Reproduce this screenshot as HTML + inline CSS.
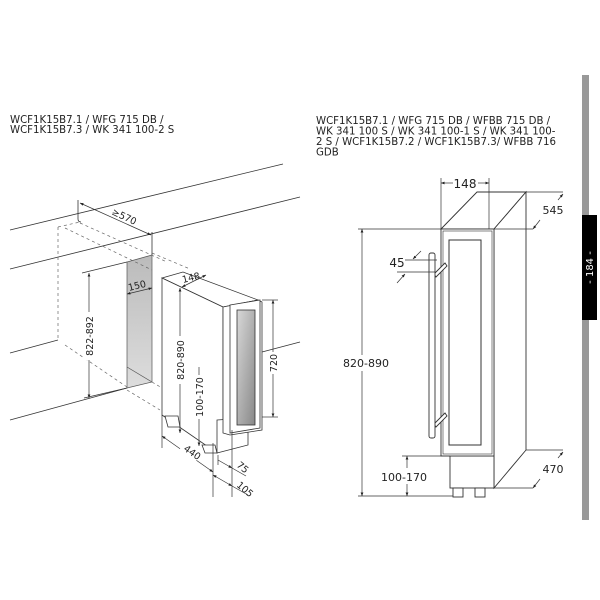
<!DOCTYPE html>
<html><head><meta charset="utf-8"><style>
html,body{margin:0;padding:0;background:#fff;width:600px;height:600px;overflow:hidden}
svg{display:block}
text{font-family:"DejaVu Sans","Liberation Sans",sans-serif;fill:#222}
</style></head><body>
<svg width="600" height="600" viewBox="0 0 600 600" xmlns="http://www.w3.org/2000/svg">
<defs>
<marker id="a" viewBox="0 0 10 10" refX="10" refY="5" markerWidth="5" markerHeight="5" orient="auto-start-reverse"><path d="M0,1 L10,5 L0,9 z" fill="#222"/></marker>
<linearGradient id="g" x1="0" y1="0" x2="0" y2="1"><stop offset="0" stop-color="#bbb"/><stop offset="1" stop-color="#ddd"/></linearGradient>
<linearGradient id="gl" x1="0" y1="0" x2="1" y2="1"><stop offset="0" stop-color="#d8d8d8"/><stop offset="1" stop-color="#888"/></linearGradient>
</defs>

<!-- titles -->
<text x="10" y="123" font-size="10.2">WCF1K15B7.1 / WFG 715 DB /</text>
<text x="10" y="133" font-size="10.2">WCF1K15B7.3 / WK 341 100-2 S</text>
<text x="316" y="124" font-size="10.2">WCF1K15B7.1 / WFG 715 DB / WFBB 715 DB /</text>
<text x="316" y="134.5" font-size="10.2">WK 341 100 S / WK 341 100-1 S / WK 341 100-</text>
<text x="316" y="145" font-size="10.2">2 S / WCF1K15B7.2 / WCF1K15B7.3/ WFBB 716</text>
<text x="316" y="155.5" font-size="10.2">GDB</text>

<!-- side tab -->
<rect x="582" y="75" width="7" height="445" fill="#999"/>
<rect x="582" y="215" width="15" height="105" fill="#000"/>
<text transform="translate(593,267.5) rotate(-90)" font-size="10" text-anchor="middle" style="fill:#fff">- 184 -</text>

<!-- LEFT DRAWING -->
<g stroke="#333" stroke-width="0.8" fill="none">
<line x1="10" y1="230" x2="283" y2="164"/>
<line x1="10" y1="269" x2="300" y2="197"/>
<line x1="10" y1="353" x2="58" y2="340"/>
<line x1="262" y1="352" x2="300" y2="342"/>
<line x1="10" y1="420" x2="127" y2="388"/>
<line x1="82" y1="273" x2="127" y2="262"/>
<line x1="152" y1="232" x2="152" y2="255"/>
<path d="M78 200 V219 q0 3 3 3"/>
</g>
<polygon points="127,262 152,255 152,382 127,388" fill="url(#g)" stroke="#555" stroke-width="0.7"/>
<line x1="127" y1="367" x2="152" y2="382" stroke="#555" stroke-width="0.7"/>
<g stroke="#666" stroke-width="0.7" stroke-dasharray="3,3" fill="none">
<line x1="58" y1="227" x2="58" y2="340"/>
<line x1="58" y1="227" x2="80" y2="222"/>
<line x1="65" y1="228" x2="152" y2="270"/>
<line x1="80" y1="223" x2="167" y2="262"/>
<line x1="152" y1="253" x2="190" y2="269"/>
<line x1="65" y1="345" x2="127" y2="387"/>
<line x1="127" y1="390" x2="160" y2="410"/>
<line x1="152" y1="382" x2="162" y2="388"/>
</g>
<!-- 570 -->
<line x1="80" y1="203" x2="151" y2="235" stroke="#333" stroke-width="0.7" marker-start="url(#a)" marker-end="url(#a)"/>
<text transform="translate(111,214) rotate(25)" font-size="9.5">≥570</text>
<!-- 822-892 -->
<line x1="89" y1="273" x2="89" y2="398" stroke="#333" stroke-width="0.7" marker-start="url(#a)" marker-end="url(#a)"/>
<line x1="84" y1="398" x2="127" y2="388" stroke="#333" stroke-width="0.7"/>
<rect x="83" y="312" width="12" height="48" fill="#fff"/>
<text transform="translate(93,336) rotate(-90)" font-size="9.5" text-anchor="middle">822-892</text>
<!-- 150 -->
<line x1="127" y1="294" x2="152" y2="288" stroke="#333" stroke-width="0.7" marker-start="url(#a)" marker-end="url(#a)"/>
<text transform="translate(129,291) rotate(-14)" font-size="9.5">150</text>

<!-- fridge left -->
<g stroke="#333" stroke-width="0.8" fill="#fff">
<polygon points="162,278 183,272 258,300 223,307"/>
<polygon points="162,278 223,307 223,433 217,453 162,415"/>
<polygon points="217,420 248,418 248,445 217,453" fill="#fff"/>
<polygon points="223,307 258,300 262,302 262,430 230,435 223,433"/>
<polygon points="230,305 260,300 260,428 230,433"/>
<rect x="237" y="310" width="18" height="115" fill="url(#gl)"/>
<polygon points="165,416 178,416 180,427 168,427"/>
<polygon points="202,445 215,445 217,453 205,453"/>
</g>
<line x1="162" y1="415" x2="162" y2="443" stroke="#333" stroke-width="0.7"/>
<!-- 148 -->
<line x1="182" y1="287" x2="206" y2="275" stroke="#333" stroke-width="0.7" marker-start="url(#a)" marker-end="url(#a)"/>
<text transform="translate(183,283) rotate(-14)" font-size="9.5">148</text>
<!-- 820-890 -->
<line x1="180" y1="288" x2="180" y2="433" stroke="#333" stroke-width="0.7" marker-start="url(#a)" marker-end="url(#a)"/>
<rect x="174" y="336" width="12" height="48" fill="#fff"/>
<text transform="translate(184,360) rotate(-90)" font-size="9.5" text-anchor="middle">820-890</text>
<!-- 100-170 -->
<line x1="199" y1="367" x2="199" y2="446" stroke="#333" stroke-width="0.7" marker-end="url(#a)"/>
<rect x="193" y="375" width="12" height="44" fill="#fff"/>
<text transform="translate(203,397) rotate(-90)" font-size="9.5" text-anchor="middle">100-170</text>
<!-- 720 -->
<line x1="262" y1="300" x2="278" y2="300" stroke="#333" stroke-width="0.7"/>
<line x1="262" y1="417" x2="278" y2="417" stroke="#333" stroke-width="0.7"/>
<line x1="273" y1="300" x2="273" y2="417" stroke="#333" stroke-width="0.7" marker-start="url(#a)" marker-end="url(#a)"/>
<rect x="267" y="352" width="12" height="22" fill="#fff"/>
<text transform="translate(277,363) rotate(-90)" font-size="9.5" text-anchor="middle">720</text>
<!-- 440 / 75 / 105 -->
<g stroke="#333" stroke-width="0.7">
<line x1="162" y1="443" x2="162" y2="448"/>
<line x1="213" y1="443" x2="213" y2="497"/>
<line x1="232" y1="430" x2="232" y2="497"/>
<line x1="218" y1="455" x2="218" y2="465"/>
<line x1="162" y1="436" x2="213" y2="472" marker-start="url(#a)" marker-end="url(#a)"/>
<line x1="218" y1="460" x2="232" y2="468" marker-end="url(#a)"/>
<line x1="213" y1="475" x2="232" y2="486" marker-start="url(#a)" marker-end="url(#a)"/>
<line x1="232" y1="468" x2="246" y2="476"/>
<line x1="232" y1="486" x2="248" y2="495"/>
</g>
<rect x="180" y="446" width="20" height="12" fill="#fff" transform="rotate(35 190 452)"/>
<text transform="translate(183,450) rotate(35)" font-size="9.5">440</text>
<text transform="translate(236,466) rotate(40)" font-size="9.5">75</text>
<text transform="translate(236,486) rotate(40)" font-size="9.5">105</text>

<!-- RIGHT DRAWING -->
<g stroke="#333" stroke-width="0.9" fill="#fff">
<polygon points="441,229 477,192 526,192 494,229"/>
<polygon points="494,229 526,192 526,450 494,488"/>
<rect x="450" y="456" width="44" height="32"/>
<rect x="453" y="488" width="10" height="9"/>
<rect x="475" y="488" width="10" height="9"/>
<rect x="441" y="229" width="53" height="227"/>
<rect x="443" y="231" width="49" height="223" fill="none" stroke-width="0.6"/>
<rect x="449" y="240" width="32" height="205" stroke-width="1"/>
<polygon points="434,274 445,263 447,266 436,277"/>
<polygon points="434,424 445,413 447,416 436,427"/>
<rect x="429" y="253" width="6" height="185" rx="2"/>
</g>
<g stroke="#333" stroke-width="0.7">
<line x1="441" y1="178" x2="441" y2="229"/>
<line x1="489" y1="178" x2="489" y2="229"/>
<line x1="441" y1="183" x2="453" y2="183" marker-start="url(#a)"/>
<line x1="478" y1="183" x2="489" y2="183" marker-end="url(#a)"/>
<line x1="526" y1="192" x2="563" y2="192"/>
<line x1="494" y1="229" x2="533" y2="229"/>
<line x1="563" y1="194" x2="558" y2="200" marker-start="url(#a)"/>
<line x1="533" y1="229" x2="540" y2="220" marker-start="url(#a)"/>
<line x1="526" y1="450" x2="563" y2="450"/>
<line x1="494" y1="488" x2="533" y2="488"/>
<line x1="563" y1="452" x2="558" y2="458" marker-start="url(#a)"/>
<line x1="533" y1="488" x2="540" y2="479" marker-start="url(#a)"/>
<line x1="358" y1="229" x2="441" y2="229"/>
<line x1="358" y1="496" x2="453" y2="496"/>
<line x1="362" y1="229" x2="362" y2="355" marker-start="url(#a)"/>
<line x1="362" y1="371" x2="362" y2="496" marker-end="url(#a)"/>
<line x1="402" y1="456" x2="450" y2="456"/>
<line x1="407" y1="456" x2="407" y2="468" marker-start="url(#a)"/>
<line x1="407" y1="484" x2="407" y2="496" marker-end="url(#a)"/>
<line x1="405" y1="260" x2="437" y2="260"/>
<line x1="397" y1="272" x2="435" y2="272"/>
<line x1="421" y1="251" x2="413" y2="259" marker-end="url(#a)"/>
<line x1="397" y1="283" x2="405" y2="274" marker-end="url(#a)"/>
</g>
<text x="465" y="188" font-size="12" text-anchor="middle">148</text>
<text x="553" y="214" font-size="11" text-anchor="middle">545</text>
<text x="553" y="473" font-size="11" text-anchor="middle">470</text>
<text x="366" y="367" font-size="11" text-anchor="middle">820-890</text>
<text x="404" y="481" font-size="11" text-anchor="middle">100-170</text>
<text x="397" y="267" font-size="12" text-anchor="middle">45</text>
</svg>
</body></html>
